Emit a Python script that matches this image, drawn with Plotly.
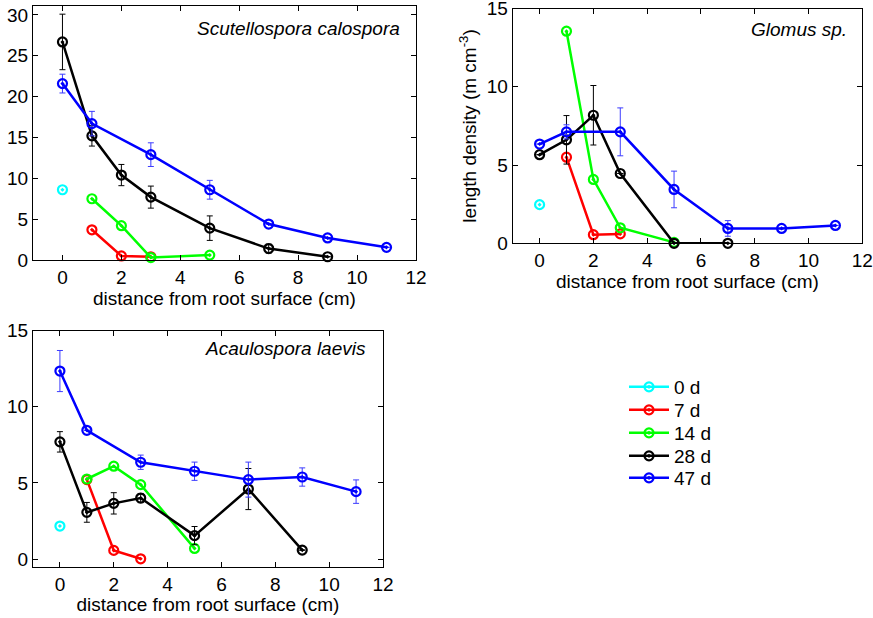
import plotly.graph_objects as go

# ---------------- data ----------------
SERIES_NAMES = ["0 d", "7 d", "14 d", "28 d", "47 d"]
SERIES_COLORS = ["#00FFFF", "#FF0000", "#00FF00", "#000000", "#0000FF"]
ERR_COLORS = ["#00FFFF", "#FF0000", "#00FF00", "#000000", "#3c3cff"]

# Scutellospora calospora
S_0d_x = [0]
S_0d_y = [8.6]
S_7d_x = [1, 2, 3]
S_7d_y = [3.7, 0.5, 0.4]
S_14d_x = [1, 2, 3, 5]
S_14d_y = [7.5, 4.2, 0.3, 0.6]
S_28d_x = [0, 1, 2, 3, 5, 7, 9]
S_28d_y = [26.7, 15.2, 10.4, 7.7, 3.9, 1.4, 0.4]
S_28d_e = [3.4, 1.25, 1.3, 1.35, 1.5, 0.55, 0]
S_47d_x = [0, 1, 3, 5, 7, 9, 11]
S_47d_y = [21.6, 16.7, 12.9, 8.6, 4.4, 2.7, 1.55]
S_47d_e = [1.15, 1.5, 1.45, 1.15, 0, 0, 0]

# Glomus sp.
G_0d_x = [0]
G_0d_y = [2.47]
G_7d_x = [1, 2, 3]
G_7d_y = [5.5, 0.55, 0.6]
G_14d_x = [1, 2, 3, 5]
G_14d_y = [13.55, 4.08, 0.99, 0.06]
G_28d_x = [0, 1, 2, 3, 5, 7]
G_28d_y = [5.66, 6.61, 8.18, 4.46, 0, 0]
G_28d_e = [0, 1.55, 1.9, 0, 0, 0]
G_47d_x = [0, 1, 3, 5, 7, 9, 11]
G_47d_y = [6.34, 7.12, 7.12, 3.44, 0.95, 0.95, 1.14]
G_47d_e = [0, 0.45, 1.53, 1.17, 0.5, 0, 0]

# Acaulospora laevis
A_0d_x = [0]
A_0d_y = [2.17]
A_7d_x = [1, 2, 3]
A_7d_y = [5.22, 0.57, 0.02]
A_14d_x = [1, 2, 3, 5]
A_14d_y = [5.26, 6.1, 4.89, 0.70]
A_28d_x = [0, 1, 2, 3, 5, 7, 9]
A_28d_y = [7.70, 3.07, 3.66, 4.01, 1.54, 4.6, 0.59]
A_28d_e = [0.67, 0.65, 0.7, 0.3, 0.6, 1.35, 0]
A_47d_x = [0, 1, 3, 5, 7, 9, 11]
A_47d_y = [12.35, 8.46, 6.36, 5.77, 5.22, 5.39, 4.43]
A_47d_e = [1.35, 0, 0.47, 0.6, 1.15, 0.6, 0.77]

X_TICKS = [0, 2, 4, 6, 8, 10, 12]
X_TITLE = "distance from root surface (cm)"
Y_TITLE = "length density (m cm<sup>-3</sup>)"
PANEL_TITLES = ["Scutellospora calospora", "Glomus sp.", "Acaulospora laevis"]

panels = [
    [(S_0d_x, S_0d_y, None), (S_7d_x, S_7d_y, None), (S_14d_x, S_14d_y, None),
     (S_28d_x, S_28d_y, S_28d_e), (S_47d_x, S_47d_y, S_47d_e)],
    [(G_0d_x, G_0d_y, None), (G_7d_x, G_7d_y, None), (G_14d_x, G_14d_y, None),
     (G_28d_x, G_28d_y, G_28d_e), (G_47d_x, G_47d_y, G_47d_e)],
    [(A_0d_x, A_0d_y, None), (A_7d_x, A_7d_y, None), (A_14d_x, A_14d_y, None),
     (A_28d_x, A_28d_y, A_28d_e), (A_47d_x, A_47d_y, A_47d_e)],
]

FONT = "Liberation Sans, Arial, Helvetica, sans-serif"
FS = 19
W, H = 873, 618

legend_keys = ["legend"] + ["legend%d" % (i + 1) for i in range(1, len(SERIES_NAMES))]

fig = go.Figure()
axis_ids = [("x", "y"), ("x2", "y2"), ("x3", "y3")]
for p, series in enumerate(panels):
    xa, ya = axis_ids[p]
    for i, (xs, ys, es) in enumerate(series):
        err = None
        if es is not None:
            err = dict(type="data", array=es, visible=True, color=ERR_COLORS[i],
                       thickness=1, width=3)
        fig.add_trace(go.Scatter(
            x=xs, y=ys, mode="lines+markers", name=SERIES_NAMES[i],
            line=dict(color=SERIES_COLORS[i], width=2.5),
            marker=dict(symbol="circle-open-dot", size=9, color=SERIES_COLORS[i],
                        line=dict(width=2.2, color=SERIES_COLORS[i])),
            error_y=err, xaxis=xa, yaxis=ya, cliponaxis=False,
            showlegend=(p == 0), legend=legend_keys[i],
        ))

def dom_x(a, b):
    return [a / W, b / W]
def dom_y(top, bottom):
    return [1 - bottom / H, 1 - top / H]

common_axis = dict(showline=True, linecolor="black", linewidth=1, mirror="ticks",
                   ticks="inside", ticklen=5, tickcolor="black", showgrid=False,
                   zeroline=False, automargin=False, ticklabeloverflow="allow",
                   tickfont=dict(size=FS, color="black", family=FONT))
title_font = dict(size=FS, color="black", family=FONT)

layout = dict(
    template="none",
    width=W, height=H, margin=dict(l=0, r=0, t=0, b=0, autoexpand=False),
    paper_bgcolor="white", plot_bgcolor="white",
    font=dict(family=FONT, size=FS, color="black"),
    xaxis=dict(domain=dom_x(33, 416), anchor="y", range=[-1, 12], tickvals=X_TICKS,
               title=dict(text=X_TITLE, standoff=0, font=title_font), **common_axis),
    yaxis=dict(domain=dom_y(6, 260), anchor="x", range=[0, 31.1],
               tickvals=[0, 5, 10, 15, 20, 25, 30], **common_axis),
    xaxis2=dict(domain=dom_x(512.7, 862.3), anchor="y2", range=[-1, 12], tickvals=X_TICKS,
                title=dict(text=X_TITLE, standoff=0, font=title_font), **common_axis),
    yaxis2=dict(domain=dom_y(8.5, 243.3), anchor="x2", range=[0, 15],
                tickvals=[0, 5, 10, 15],
                title=dict(text=Y_TITLE, standoff=5, font=title_font), **common_axis),
    xaxis3=dict(domain=dom_x(33, 383), anchor="y3", range=[-1, 12], tickvals=X_TICKS,
                title=dict(text=X_TITLE, standoff=0, font=title_font), **common_axis),
    yaxis3=dict(domain=dom_y(330.7, 566.7), anchor="x3", range=[-0.5, 15],
                tickvals=[0, 5, 10, 15], **common_axis),
    showlegend=True,
)

legend_centers = [387, 410, 433, 456, 478]
for key, yc in zip(legend_keys, legend_centers):
    layout[key] = dict(x=624 / W, y=1 - yc / H, xanchor="left", yanchor="middle",
                       bgcolor="rgba(0,0,0,0)", borderwidth=0,
                       font=dict(size=FS, family=FONT, color="black"),
                       itemwidth=40)
fig.update_layout(**layout)

ann_pos = [(402, 28), (849, 29), (368, 348)]
for (ax, ay), t in zip(ann_pos, PANEL_TITLES):
    fig.add_annotation(x=ax / W, y=1 - ay / H, xref="paper", yref="paper",
                       text="<i>" + t + "</i>", showarrow=False, xanchor="right",
                       yanchor="middle", font=dict(size=FS, family=FONT, color="black"))

fig.write_html("out.html", config={"displayModeBar": False},
               post_script="document.body.style.margin='0px';")
